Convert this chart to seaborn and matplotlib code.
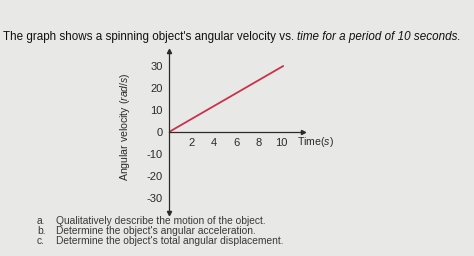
import matplotlib
matplotlib.use("Agg")
import matplotlib.pyplot as plt
import seaborn as sns
import pandas as pd

# data
time_s = [0, 10.2]
omega = [0, 30]
x_ticks = [2, 4, 6, 8, 10]
y_ticks = [-30, -20, -10, 0, 10, 20, 30]
title_plain = "The graph shows a spinning object's angular velocity vs. "
title_italic = "time for a period of 10 seconds."
questions = [("a.", "Qualitatively describe the motion of the object."),
             ("b.", "Determine the object's angular acceleration."),
             ("c.", "Determine the object's total angular displacement.")]

sns.set_theme(style="white")
plt.rcParams['font.family'] = ['Liberation Sans', 'DejaVu Sans']
plt.rcParams['mathtext.fontset'] = 'custom'
plt.rcParams['mathtext.rm'] = 'Liberation Sans'
plt.rcParams['mathtext.it'] = 'Liberation Sans:italic'

bg = '#e8e8e6'
tc = '#2a2a2a'
fig = plt.figure(figsize=(4.74, 2.56), dpi=100, facecolor=bg)
ax = fig.add_axes([169/474, (256-213.4)/256, 134.4/474, 162.8/256])
ax.set_facecolor('none')

df = pd.DataFrame({"t": time_s, "w": omega})
sns.lineplot(data=df, x="t", y="w", ax=ax, color='#c8324a', linewidth=1.3)

ax.set_xlim(0, 12)
ax.set_ylim(-37, 37)
for s in ['top', 'right']:
    ax.spines[s].set_visible(False)
ax.spines['left'].set_position(('data', 0))
ax.spines['bottom'].set_position(('data', 0))
for s in ['left', 'bottom']:
    ax.spines[s].set_color(tc)
    ax.spines[s].set_linewidth(0.9)

ax.set_xticks(x_ticks)
ax.set_yticks(y_ticks)
ax.set_xticklabels([str(v) for v in x_ticks])
ax.set_yticklabels([str(v) for v in y_ticks])
ax.tick_params(axis='both', direction='inout', length=9, width=0.9, color=tc,
               labelsize=8, labelcolor=tc, pad=0)
ax.set_xlabel('')
ax.set_ylabel('')

# arrowheads
ax.plot(1.0, 0, '>', color=tc, ms=3, transform=ax.get_yaxis_transform(), clip_on=False)
ax.plot(0, 1.0, '^', color=tc, ms=3, transform=ax.get_xaxis_transform(), clip_on=False)
ax.plot(0, 0.0, 'v', color=tc, ms=3, transform=ax.get_xaxis_transform(), clip_on=False)

ax.text(11.4, -4.6, r'Time($\it{s}$)', ha='left', va='center', fontsize=7.6, color=tc)
fig.text(125/474, 1 - 127/256, r'Angular velocity ($\it{rad/s}$)', rotation=90,
         ha='center', va='center', fontsize=7.6, color=tc)

# title
t1 = fig.text(3/474, 1 - 37/256, title_plain, ha='left', va='center', fontsize=8.4, color='#111111')
fig.canvas.draw()
bb = t1.get_window_extent()
fig.text(bb.x1 / fig.bbox.width, 1 - 37/256, title_italic, ha='left', va='center',
         fontsize=8.4, style='italic', color='#111111')

# questions
ys = [221, 231, 241]
for (lab, q), y in zip(questions, ys):
    fig.text(37/474, 1 - y/256, lab, ha='left', va='center', fontsize=7.4, color='#3a3a3a')
    fig.text(56/474, 1 - y/256, q, ha='left', va='center', fontsize=7.4, color='#3a3a3a')

fig.savefig('out.png', dpi=100, facecolor=bg)
